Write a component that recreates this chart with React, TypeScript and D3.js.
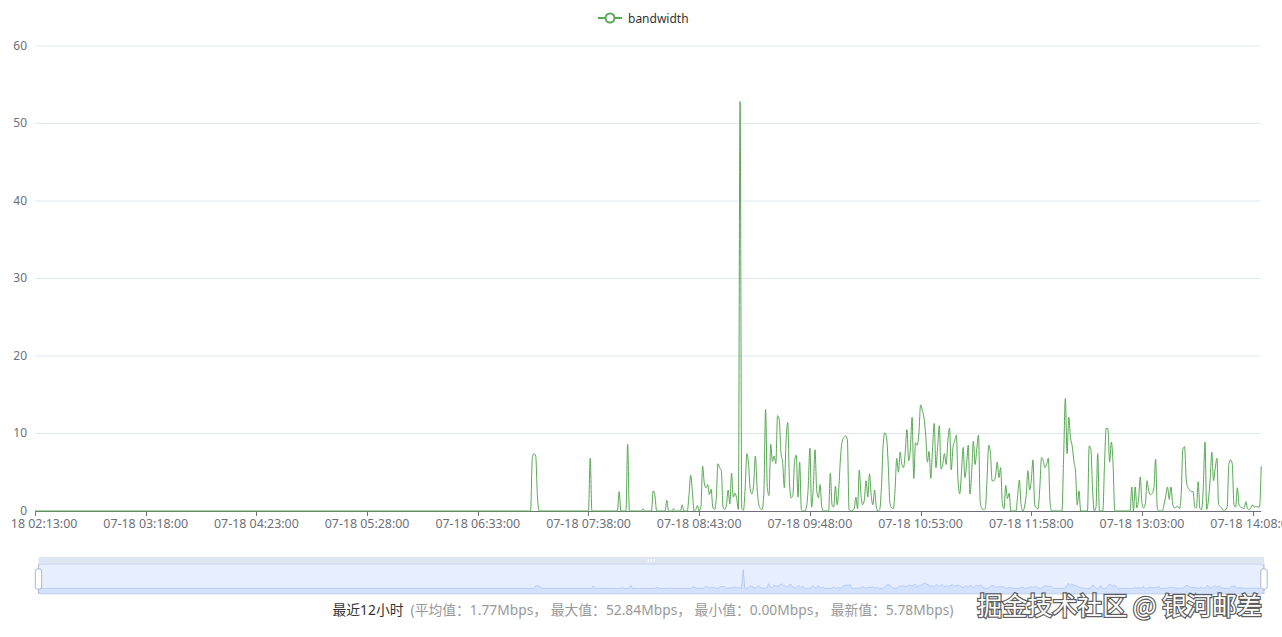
import * as d3 from "d3";

// minutes since 07-18 02:13:00, bandwidth in Mbps
const readings: [number, number][] = [
  [0, 0], [291, 0], [292, 6.8], [293, 7.4], [294, 7.1], [295, 2.0], [296, 0],
  [325, 0], [326, 6.8], [327, 0],
  [342, 0], [343, 2.5], [344, 0],
  [347, 0], [348, 8.6], [349, 0],
  [356, 0], [357, 0.3], [358, 0],
  [362, 0], [363, 2.6], [364, 2.0], [365, 0],
  [370, 0], [371, 1.4], [372, 0],
  [374, 0], [375, 0.3], [376, 0],
  [379, 0], [380, 0.8], [381, 0],
  [383, 0], [384, 2.0], [385, 4.6], [386, 2.5], [387, 0],
  [388, 0.2], [389, 0.7], [390, 0],
  [391, 0.5], [392, 5.8], [393, 3.6], [394, 3.0], [395, 3.4], [396, 2.1], [397, 2.8], [398, 0.5], [399, 0.2],
  [400, 1.5], [401, 6.1], [402, 5.6], [403, 5.2], [404, 0.5], [405, 0.2], [406, 0.8], [407, 2.7], [408, 0.9], [409, 4.9],
  [410, 1.8], [411, 2.3], [412, 1.6], [413, 0.2], [414, 52.84], [415, 0.3], [416, 0.1], [417, 3.0], [418, 7.4], [419, 6.0],
  [420, 2.7], [421, 2.2], [422, 3.5], [423, 7.1], [424, 3.0], [425, 0.8], [426, 0.3], [427, 0.2], [428, 2.5], [429, 13.1],
  [430, 3.0], [431, 2.0], [432, 8.6], [433, 6.4], [434, 7.1], [435, 6.1], [436, 12.3], [437, 11.8], [438, 7.5], [439, 6.3],
  [440, 3.0], [441, 9.0], [442, 11.4], [443, 3.7], [444, 1.7], [445, 2.0], [446, 6.5], [447, 7.2], [448, 1.8], [449, 6.3],
  [450, 0.2], [451, 0], [452, 0], [453, 0.5], [454, 3.0], [455, 8.1], [456, 0.5], [457, 3.0], [458, 7.9], [459, 2.7],
  [460, 1.7], [461, 3.4], [462, 0.5], [463, 0], [466, 0], [467, 4.9], [468, 0.8], [469, 0.5], [470, 3.2], [471, 0.8],
  [472, 3.0], [473, 7.0], [474, 9.0], [475, 9.5], [476, 9.7], [477, 9.2], [478, 0.2], [479, 0],
  [481, 0.3], [482, 1.8], [483, 0.3], [484, 5.3], [485, 2.0], [486, 0.8], [487, 1.5], [488, 3.9], [489, 1.8],
  [490, 4.8], [491, 2.0], [492, 0.8], [493, 2.7], [494, 0.5], [495, 0], [496, 0.2], [497, 3.0], [498, 8.5], [499, 10.1],
  [500, 9.5], [501, 6.0], [502, 1.0], [503, 0.4], [504, 0.3], [505, 2.7], [506, 6.8], [507, 5.0], [508, 7.6], [509, 6.0],
  [510, 5.6], [511, 7.6], [512, 10.5], [513, 6.5], [514, 8.0], [515, 12.1], [516, 4.2], [517, 8.8], [518, 8.5], [519, 10.0],
  [520, 13.7], [521, 13.0], [522, 12.0], [523, 9.8], [524, 6.3], [525, 7.7], [526, 4.2], [527, 8.0], [528, 11.3], [529, 5.6],
  [530, 8.2], [531, 11.0], [532, 5.4], [533, 6.0], [534, 7.4], [535, 6.0], [536, 9.0], [537, 10.7], [538, 5.3], [539, 8.2],
  [540, 9.0], [541, 9.8], [542, 3.9], [543, 2.2], [544, 5.0], [545, 8.2], [546, 4.3], [547, 6.0], [548, 8.5], [549, 2.2],
  [550, 5.0], [551, 9.0], [552, 6.0], [553, 8.0], [554, 9.8], [555, 1.2], [556, 0.3], [557, 0.2], [558, 0.3], [559, 4.0],
  [560, 8.5], [561, 7.5], [562, 3.9], [563, 3.9], [564, 4.5], [565, 6.3], [566, 4.3], [567, 5.6], [568, 1.0], [569, 0.3],
  [570, 3.3], [571, 1.6], [572, 2.3], [573, 0], [576, 0], [577, 2.0], [578, 4.0], [579, 0.8], [580, 0],
  [582, 2.0], [583, 5.2], [584, 2.7], [585, 4.0], [586, 6.6], [587, 0.8], [588, 0.4], [589, 0.3],
  [590, 3.0], [591, 6.9], [592, 6.5], [593, 5.6], [594, 6.0], [595, 6.8], [596, 1.2], [597, 0],
  [603, 0], [604, 7.0], [605, 14.5], [606, 7.4], [607, 12.1], [608, 9.5], [609, 8.4],
  [610, 6.5], [611, 5.0], [612, 0.8], [613, 2.6], [614, 0], [618, 0], [619, 8.4],
  [620, 7.9], [621, 2.7], [622, 0], [623, 0.5], [624, 7.4], [625, 0], [627, 0], [628, 6.0], [629, 10.7],
  [630, 10.6], [631, 6.3], [632, 8.9], [633, 6.2], [634, 0], [643, 0], [644, 3.1], [645, 0], [646, 3.1], [647, 0.4],
  [648, 1.5], [649, 4.4], [650, 1.0], [651, 0.4], [652, 1.0], [653, 3.9], [654, 2.5], [655, 2.1], [656, 2.3], [657, 3.0],
  [658, 6.7], [659, 0.3], [660, 0], [662, 0], [663, 0.9], [664, 2.0], [665, 3.1], [666, 1.5], [667, 3.1], [668, 1.0],
  [669, 0.4], [671, 0.6], [672, 0.3], [673, 2.0], [674, 8.0], [675, 8.3], [676, 4.0], [677, 3.0], [678, 2.7], [679, 2.5],
  [680, 2.5], [681, 0.5], [682, 0.4], [683, 3.8], [684, 0.3], [685, 0.2], [686, 3.0], [687, 8.9], [688, 0.2], [689, 1.4],
  [690, 4.0], [691, 7.6], [692, 3.9], [693, 5.5], [694, 6.8], [695, 0.8], [696, 0.6], [697, 0.3], [698, 0],
  [700, 0.5], [701, 6.0], [702, 6.6], [703, 6.1], [704, 0.8], [705, 0.5], [706, 3.0], [707, 0.8], [708, 0.5], [709, 0.4],
  [710, 0.3], [711, 1.2], [712, 0.3], [713, 0.2], [714, 0.4], [715, 0.8], [716, 0.5], [717, 0.6], [718, 0.5], [719, 0.5],
  [720, 5.78],
];

const seriesName = "bandwidth";
const tickMinutes = [0, 65, 130, 195, 260, 325, 390, 455, 520, 585, 650, 715];
const tickLabels = [
  "07-18 02:13:00", "07-18 03:18:00", "07-18 04:23:00", "07-18 05:28:00",
  "07-18 06:33:00", "07-18 07:38:00", "07-18 08:43:00", "07-18 09:48:00",
  "07-18 10:53:00", "07-18 11:58:00", "07-18 13:03:00", "07-18 14:08:00",
];
const yTicks = [0, 10, 20, 30, 40, 50, 60];
const summaryTitle = "最近12小时";
const summaryStats = "(平均值：1.77Mbps， 最大值：52.84Mbps， 最小值：0.00Mbps， 最新值：5.78Mbps)";
const watermark = "掘金技术社区 @ 银河邮差";

const W = 1282;
const H = 637;
const green = "#58a854";
const axisColor = "#6E7079";
const font = "'Microsoft YaHei', 'Noto Sans', 'Noto Sans CJK SC', sans-serif";

export default function App() {
  const x = d3.scaleLinear().domain([0, 720]).range([35, 1261.2]);
  const y = d3.scaleLinear().domain([0, 60]).range([511, 46]);

  const line = d3
    .line<[number, number]>()
    .x((d) => x(d[0]))
    .y((d) => y(d[1]))
    .curve(d3.curveMonotoneX);

  // slider (dataZoom) geometry
  const sl = { left: 38.5, right: 1264, top: 564, bottom: 594, handleTop: 557 };
  const maxV = d3.max(readings, (d) => d[1]) ?? 1;
  const pad = maxV * 0.3;
  const sx = d3.scaleLinear().domain([0, 720]).range([sl.left, sl.right]);
  const sy = d3.scaleLinear().domain([-pad, maxV + pad]).range([sl.bottom, sl.top]);
  const shadowArea = d3
    .area<[number, number]>()
    .x((d) => sx(d[0]))
    .y0(sl.bottom)
    .y1((d) => sy(d[1]));
  const shadowLine = d3
    .line<[number, number]>()
    .x((d) => sx(d[0]))
    .y((d) => sy(d[1]));

  const midX = (sl.left + sl.right) / 2;
  const handleY = (sl.top + sl.bottom) / 2;

  return (
    <div style={{ position: "absolute", left: 0, top: 0, width: W, height: H }}>
      <svg width={W} height={H} style={{ display: "block", fontFamily: font }}>
        <defs>
          <clipPath id="canvasClip">
            <rect x={12} y={0} width={W - 12} height={H} />
          </clipPath>
        </defs>
        <rect width={W} height={H} fill="#fff" />

        {/* legend */}
        <g>
          <line x1={598} x2={622} y1={18} y2={18} stroke={green} strokeWidth={2} />
          <circle cx={610} cy={18} r={4.5} fill="#fff" stroke={green} strokeWidth={2} />
          <text x={628} y={18} dominantBaseline="central" fontSize={12} fill="#333">
            {seriesName}
          </text>
        </g>

        {/* grid + y labels */}
        {yTicks.map((t) => (
          <g key={t}>
            {t !== 0 && (
              <line x1={x(0)} x2={x(720)} y1={y(t)} y2={y(t)} stroke="#E0E6F1" />
            )}
            <text
              x={27}
              y={y(t) - 1}
              textAnchor="end"
              dominantBaseline="central"
              fontSize={12}
              fill={axisColor}
            >
              {t}
            </text>
          </g>
        ))}

        {/* x axis */}
        <line x1={x(0)} x2={x(720)} y1={y(0) + 0.5} y2={y(0) + 0.5} stroke={axisColor} />
        <g clipPath="url(#canvasClip)">
          {tickMinutes.map((m, i) => (
            <g key={m}>
              <line
                x1={Math.round(x(m)) + 0.5}
                x2={Math.round(x(m)) + 0.5}
                y1={y(0)}
                y2={y(0) + 5}
                stroke={axisColor}
              />
              <text
                x={x(m)}
                y={523}
                textAnchor="middle"
                dominantBaseline="central"
                fontSize={12.4}
                fill={axisColor}
              >
                {tickLabels[i]}
              </text>
            </g>
          ))}
        </g>

        {/* series */}
        <path d={line(readings) ?? ""} fill="none" stroke={green} strokeWidth={1} />

        {/* dataZoom slider */}
        <g>
          <rect
            x={sl.left}
            y={sl.top}
            width={sl.right - sl.left}
            height={sl.bottom - sl.top}
            fill="none"
            stroke="#d2dbee"
            rx={3}
          />
          <rect
            x={sl.left}
            y={sl.top}
            width={sl.right - sl.left}
            height={sl.bottom - sl.top}
            fill="rgba(135,175,255,0.2)"
          />
          <path d={shadowArea(readings) ?? ""} fill="#8fb0f7" fillOpacity={0.2} />
          <path d={shadowLine(readings) ?? ""} fill="none" stroke="#8fb0f7" strokeWidth={0.5} />
          <rect
            x={sl.left}
            y={sl.handleTop}
            width={sl.right - sl.left}
            height={sl.top - sl.handleTop}
            fill="#D2DBEE"
            fillOpacity={0.7}
          />
          {[-3, 0, 3].map((dx) => (
            <rect key={dx} x={midX + dx - 0.5} y={sl.handleTop + 2} width={1} height={3} fill="#fff" />
          ))}
          {[sl.left, sl.right].map((hx) => (
            <g key={hx}>
              <line x1={hx} x2={hx} y1={sl.top} y2={sl.bottom} stroke="#ACB8D1" strokeWidth={0.8} />
              <rect
                x={hx - 3.2}
                y={handleY - 10}
                width={6.4}
                height={20}
                rx={2}
                fill="#fff"
                stroke="#ACB8D1"
              />
            </g>
          ))}
        </g>

        {/* summary line */}
        <text x={643} y={609} textAnchor="middle" dominantBaseline="central" fontSize={13.8}>
          <tspan fill="#333">{summaryTitle}</tspan>
          <tspan fill="#999" dx={7}>{summaryStats}</tspan>
        </text>

        {/* watermark */}
        <text
          x={1262}
          y={604}
          textAnchor="end"
          dominantBaseline="central"
          fontSize={25}
          fill="#fff"
          stroke="rgba(50,50,50,0.8)"
          strokeWidth={2.5}
          paintOrder="stroke"
          fontFamily="'Noto Sans CJK SC', sans-serif"
        >
          {watermark}
        </text>
      </svg>
    </div>
  );
}
